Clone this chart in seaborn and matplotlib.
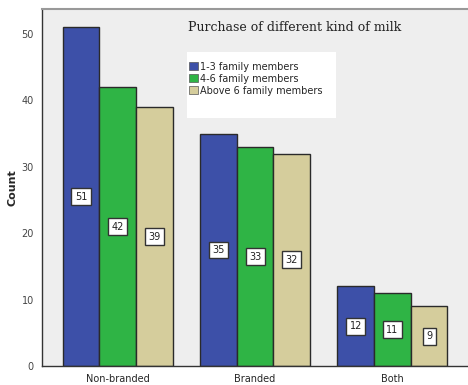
import pandas as pd
import numpy as np
import matplotlib.pyplot as plt
import seaborn as sns
from matplotlib.patches import Rectangle

# milk type purchased, split by household size
milk_types = ['Non-branded', 'Branded', 'Both']
groups = ['1-3 family members', '4-6 family members', 'Above 6 family members']
counts_small = [51, 35, 12]
counts_medium = [42, 33, 11]
counts_large = [39, 32, 9]

df = pd.DataFrame({
    'milk': milk_types * 3,
    'group': np.repeat(groups, 3),
    'count': counts_small + counts_medium + counts_large,
})

palette = ['#3d50a8', '#2fb445', '#d5cd9c']

sns.set_style('white')
fig = plt.figure(figsize=(4.68, 3.85), dpi=100)
ax = fig.add_axes([0.09, 0.049, 0.91, 0.928])
ax.set_facecolor('#eeeeee')

sns.barplot(data=df, x='milk', y='count', hue='group', order=milk_types,
            hue_order=groups, palette=palette, width=0.8, saturation=1,
            edgecolor='#2a2a2a', linewidth=1, ax=ax, legend=False)

# value boxes in the middle of each bar
for cont in ax.containers:
    ax.bar_label(cont, label_type='center', fontsize=7, color='#222222',
                 bbox=dict(boxstyle='square,pad=0.35', fc='white', ec='#333333', lw=1))

ax.set_xlim(-0.55, 2.55)
ax.set_ylim(0, 53.8)
ax.set_yticks([0, 10, 20, 30, 40, 50])
ax.tick_params(axis='both', labelsize=7, length=4, width=0.8, color='#333333',
               direction='out', pad=2)
ax.tick_params(axis='y', labelcolor='#444444')
ax.set_xlabel('')
ax.set_ylabel('Count', fontsize=8, fontweight='bold', labelpad=3)

for s in ['left', 'bottom']:
    ax.spines[s].set_color('#333333')
    ax.spines[s].set_linewidth(1)
ax.spines['top'].set_color('#999999')
ax.spines['top'].set_linewidth(1.5)
ax.spines['right'].set_visible(False)

ax.text(0.342, 0.965, 'Purchase of different kind of milk', transform=ax.transAxes,
        fontsize=9, family='DejaVu Serif', va='top', ha='left', color='#222222')

# legend panel
ax.add_patch(Rectangle((0.34, 0.695), 0.35, 0.185, transform=ax.transAxes,
                       fc='white', ec='none', zorder=3))
handles = [Rectangle((0, 0), 1, 1, fc=c, ec='#555555', lw=0.5) for c in palette]
ax.legend(handles, groups, loc='upper left', bbox_to_anchor=(0.338, 0.86),
          frameon=False, fontsize=7, handlelength=0.9, handleheight=0.9,
          handletextpad=0.25, labelspacing=0.2, borderaxespad=0, borderpad=0.3)

plt.savefig('out.png', dpi=100)
print('saved')
